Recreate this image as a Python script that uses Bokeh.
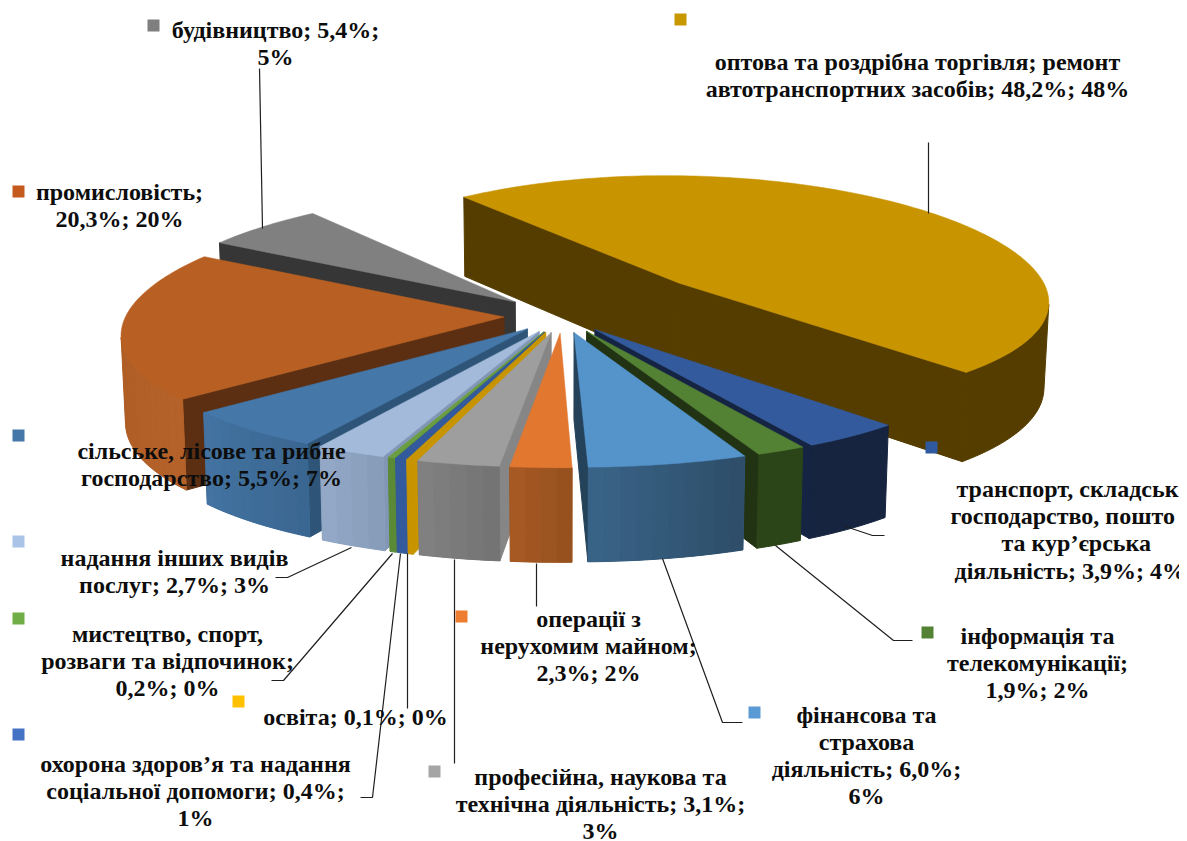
import math
from bokeh.plotting import figure, ColumnDataSource
from bokeh.models import Range1d
from bokeh.core.properties import value
from bokeh.embed import file_html
from bokeh.resources import INLINE

# ---- data, in drawing-clockwise order starting at the big slice ----
names = ["оптова", "транспорт", "інформація", "фінансова", "операції", "професійна",
         "освіта", "охорона", "мистецтво", "надання", "сільське", "промисловість", "будівництво"]
labelled_pct = [48.2, 3.9, 1.9, 6.0, 2.3, 3.1, 0.1, 0.4, 0.2, 2.7, 5.5, 20.3, 5.4]
# share of the pie as it is drawn in the picture
drawn_share = [49.7, 3.9, 1.9, 6.0, 2.3, 3.1, 0.2, 0.4, 0.25, 2.7, 5.7, 20.3, 6.0]

label_lines = [
    ["оптова та роздрібна торгівля; ремонт", "автотранспортних засобів; 48,2%; 48%"],
    [],
    ["інформація та", "телекомунікації;", "1,9%; 2%"],
    ["фінансова та", "страхова", "діяльність; 6,0%;", "6%"],
    ["операції з", "нерухомим майном;", "2,3%; 2%"],
    ["професійна, наукова та", "технічна діяльність; 3,1%;", "3%"],
    ["освіта; 0,1%; 0%"],
    ["охорона здоров’я та надання", "соціальної допомоги; 0,4%;", "1%"],
    ["мистецтво, спорт,", "розваги та відпочинок;", "0,2%; 0%"],
    ["надання інших видів", "послуг; 2,7%; 3%"],
    ["сільське, лісове та рибне", "господарство; 5,5%; 7%"],
    ["промисловість;", "20,3%; 20%"],
    ["будівництво; 5,4%;", "5%"],
]
# this label runs off the right edge of the picture: only its visible part is set
edge_label_lines = ["транспорт, складськ", "господарство, пошто", "та кур’єрська", "діяльність; 3,9%; 4%"]
edge_label_x = [956, 950, 1001, 954]
edge_label_y = [488, 515, 542, 570]

# ---- styling and layout ----
top_col = ["#C89400", "#335A9C", "#548235", "#5593CB", "#E27730", "#9E9E9E",
           "#C89400", "#335A9C", "#6A9E40", "#A3BADB", "#4577A8", "#B86023", "#808080"]
side_a = ["#553D00", "#16243F", "#2B4418", "#2D4D68", "#95501E", "#727272",
          "#C89400", "#335A9C", "#5B8A37", "#869BB8", "#3A6690", "#B5612A", "#363636"]
side_b = ["#553D00", "#16243F", "#2B4418", "#3A6488", "#A85A24", "#828282",
          "#C89400", "#335A9C", "#5B8A37", "#94AAC8", "#4474A3", "#A85A1F", "#363636"]
cut_col = ["#553D00", "#162444", "#213313", "#244259", "#A35822", "#868686",
           "#C89400", "#335A9C", "#5B8A37", "#8297B6", "#2E5578", "#5C2F12", "#363636"]
swatch = ["#C99700", "#2F5AA0", "#548235", "#5B9BD5", "#ED7D31", "#A5A5A5",
          "#FFC000", "#4472C4", "#70AD47", "#A9C4E6", "#4577A8", "#C55A1F", "#7F7F7F"]
explode = [0.42, 0.143, 0.143, 0.143, 0.143, 0.143, 0.143, 0.143, 0.143, 0.143, 0.143, 0.155, 0.17]
# small turn of a slice about its own tip, degrees
turn = [-0.3, 0, 0, 0, 0, 0, 0, 0, 0, 0, 0, 0, 0]
swatch_xy = [(680, 19), (931, 447), (927, 632), (754, 712), (461, 616), (434, 771),
             (238, 701), (18, 734), (18, 618), (18, 541), (18, 435), (18, 191), (153, 25)]
# centre x, first baseline
label_xy = [(917, 61), (0, 0), (1037, 635), (866, 714), (588, 618), (600, 776),
            (355, 716), (195, 763), (167, 633), (174, 557), (211, 450), (119, 191), (275, 29)]
line_step = 27.2
leaders = [
    [(928, 213), (928, 142)],
    [(845, 526), (872, 535), (884, 535)],
    [(775, 545), (893, 640), (912, 640)],
    [(662, 558), (722, 722), (742, 722)],
    [(536, 563), (536, 606)],
    [(454, 559), (454, 763)],
    [(407, 553), (407, 708)],
    [(400, 553), (372, 797), (360, 797)],
    [(392, 553), (283, 680), (271, 680)],
    [(351, 547), (287, 577), (275, 577)],
    [],
    [],
    [(262, 228), (259, 68)],
]
draw_order = [12, 0, 11, 10, 9, 8, 7, 6, 5, 1, 2, 3, 4]

CX, CY, RX, RY, PERSP_X, PERSP_Y, DEPTH = 562, 315, 378, 121, 0.13, 0.08, 86
START_DEG = -127.7


def project(X, Y, z):
    sx = 1 / (1 - PERSP_X * Y)
    sy = 1 / (1 - PERSP_Y * Y)
    x = CX + RX * X * sx
    y = CY + RY * Y * sy + DEPTH * z * sy
    x = CX + (x - CX) * (1 - 0.01 * z)
    return x, y


def cross(o, a, b):
    return (a[0] - o[0]) * (b[1] - o[1]) - (a[1] - o[1]) * (b[0] - o[0])


def lerp_col(c1, c2, t):
    a = [int(c1[i:i + 2], 16) for i in (1, 3, 5)]
    b = [int(c2[i:i + 2], 16) for i in (1, 3, 5)]
    return "#%02X%02X%02X" % tuple(round(u + (v - u) * t) for u, v in zip(a, b))


total = sum(drawn_share)
edges = [START_DEG]
for v in drawn_share:
    edges.append(edges[-1] + v / total * 360)

xs, ys, cols, lws = [], [], [], []


def add(poly, col, lw=1.0):
    xs.append([q[0] for q in poly])
    ys.append([q[1] for q in poly])
    cols.append(col)
    lws.append(lw)


for i in draw_order:
    a0, a1 = edges[i] + turn[i], edges[i + 1] + turn[i]
    m = math.radians((a0 + a1) / 2)
    ox, oy = explode[i] * math.cos(m), explode[i] * math.sin(m)

    def rim(deg, z):
        r = math.radians(deg)
        return project(ox + math.cos(r), oy + math.sin(r), z)

    apex_t, apex_b = project(ox, oy, 0), project(ox, oy, 1)
    # radial faces
    for deg, sign in ((a0, -1), (a1, 1)):
        rt, rb = rim(deg, 0), rim(deg, 1)
        if cross(apex_t, rt, rb) * sign > 0:
            add([apex_t, rt, rb, apex_b], cut_col[i])
    # outer wall: one solid piece, then bands over it so that it can shade
    n = max(2, int((a1 - a0) / 2))
    steps = [a0 + (a1 - a0) * k / n for k in range(n + 1)]
    vis = [k for k in range(n) if cross(rim(steps[k], 0), rim(steps[k + 1], 0), rim(steps[k + 1], 1)) < 0]
    if vis:
        dd = [steps[k] for k in vis] + [steps[vis[-1] + 1]]
        add([rim(d, 0) for d in dd] + [rim(d, 1) for d in reversed(dd)],
            lerp_col(side_a[i], side_b[i], 0.5))
        if side_a[i] != side_b[i]:
            for k in vis:
                d0, d1 = steps[k], steps[k + 1]
                add([rim(d0, 0), rim(d1, 0), rim(d1, 1), rim(d0, 1)],
                    lerp_col(side_a[i], side_b[i], (k + 0.5) / n), 0)
    # top face
    n = max(2, int(a1 - a0))
    add([apex_t] + [rim(a0 + (a1 - a0) * k / n, 0) for k in range(n + 1)], top_col[i], 0.5)

p = figure(width=1179, height=841, x_range=Range1d(0, 1179), y_range=Range1d(841, 0),
           toolbar_location=None, output_backend="svg", min_border=0)
p.axis.visible = False
p.grid.visible = False
p.outline_line_color = None

p.patches("xs", "ys", source=ColumnDataSource(dict(xs=xs, ys=ys, c=cols, w=lws)),
          fill_color="c", line_color="c", line_width="w")

lx = [[q[0] for q in l] for l in leaders if l]
ly = [[q[1] for q in l] for l in leaders if l]
p.multi_line(lx, ly, line_color="#1F1F1F", line_width=1.2)

p.scatter([q[0] for q in swatch_xy], [q[1] for q in swatch_xy], marker="square", size=12,
          color=swatch, line_width=0)

tx, ty, tt = [], [], []
for (cx, y0), lines in zip(label_xy, label_lines):
    for j, t in enumerate(lines):
        tx.append(cx)
        ty.append(y0 + j * line_step)
        tt.append(t)
font = dict(text_font=value("Liberation Serif"), text_font_style="bold", text_font_size="24px",
            text_baseline="alphabetic", text_color="#0D0D0D")
p.text(tx, ty, text=tt, text_align="center", **font)
p.text(edge_label_x, edge_label_y, text=edge_label_lines, text_align="left", **font)

open("out.html", "w").write(file_html(p, INLINE))
